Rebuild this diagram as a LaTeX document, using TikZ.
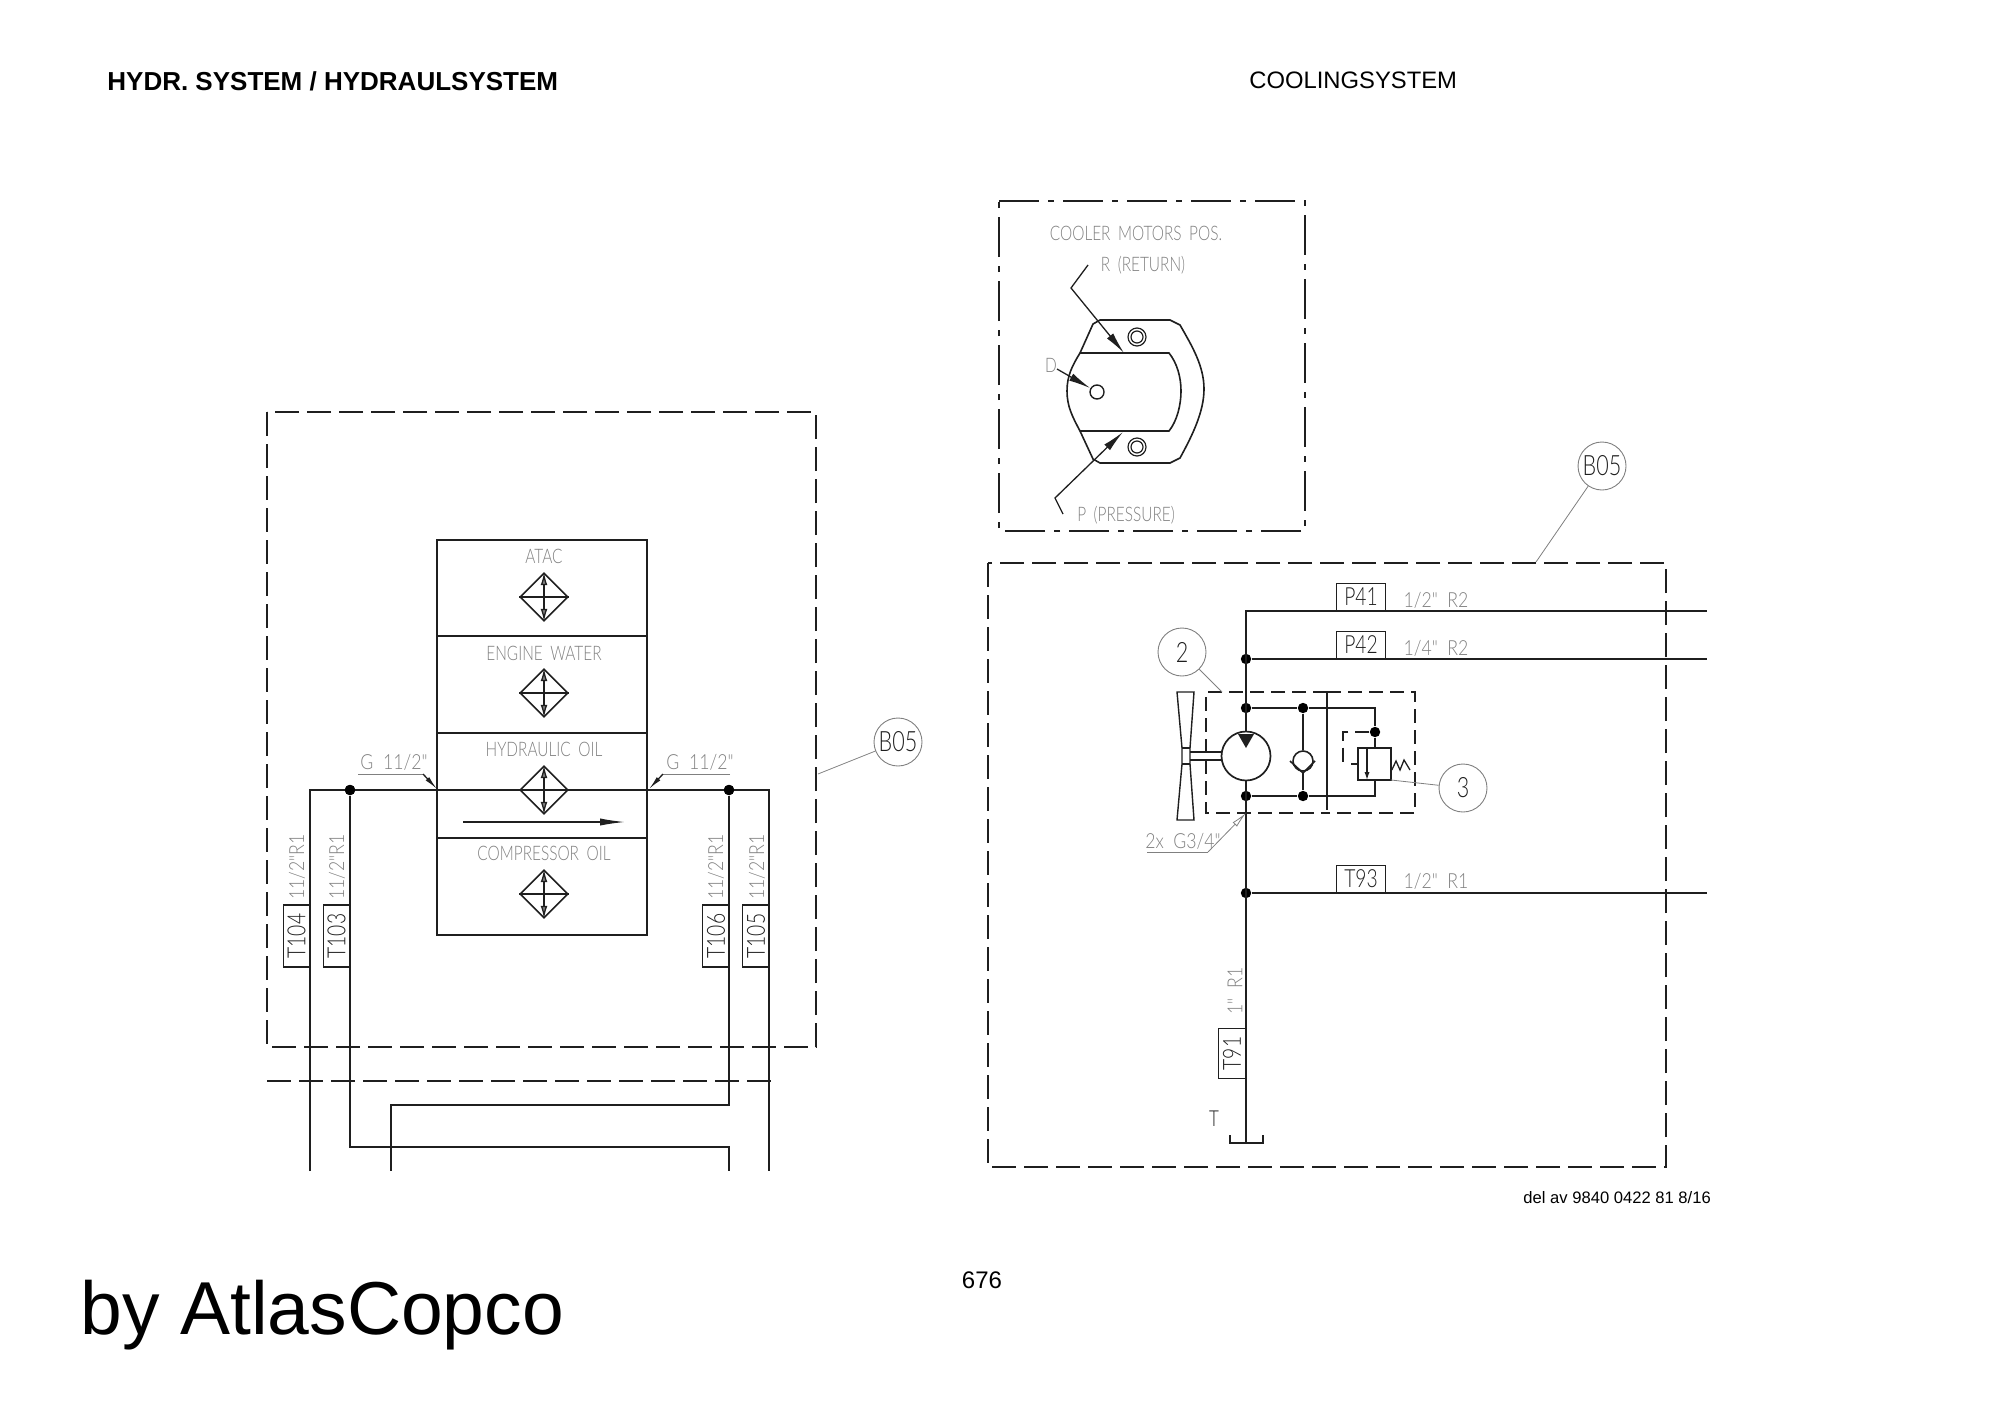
\documentclass[tikz,border=0pt]{standalone}
\usepackage{fontspec}
\usepackage{graphicx}
\setmainfont{Liberation Sans}
\newfontfamily\cad[FakeStretch=0.77,WordSpace=1.8,UprightFont=* Light]{Lato}
\newfontfamily\cadw[FakeStretch=0.85,WordSpace=2.0,UprightFont=* Light]{Lato}
\usetikzlibrary{arrows.meta,shapes.geometric}
\definecolor{cadgray}{gray}{0.5}
\definecolor{ink}{gray}{0.12}
\tikzset{
  x=0.5pt,y=-0.5pt,
  every path/.style={line join=miter},
  pipe/.style={draw=ink,line width=0.72pt},
  frame/.style={draw=ink,line width=1.1pt,dash pattern=on 12pt off 4pt},
  dashdot/.style={draw=ink,line width=0.75pt,dash pattern=on 20pt off 4.5pt on 3pt off 4.5pt},
  hidden/.style={draw=ink,line width=0.75pt,dash pattern=on 7pt off 3.5pt},
  thinlead/.style={draw=cadgray,line width=0.4pt},
  lead/.style={draw=ink,line width=0.65pt},
  head/.style={-{Latex[length=11pt,width=4pt]}},
  jdot/.style={circle,fill=black,minimum size=5.2pt,inner sep=0pt},
  graytext/.style={font=\cad\fontsize{10}{12}\selectfont,text=cadgray,inner sep=0pt},
  sizetext/.style={font=\cadw\fontsize{10.4}{12}\selectfont,text=cadgray,inner sep=0pt},
  tag/.style={draw=ink,line width=0.6pt,minimum width=26pt,minimum height=13.4pt,inner sep=0pt,font=\cad\fontsize{12.5}{14}\selectfont,text=ink},
  balloon/.style={circle,draw=cadgray,line width=0.45pt,minimum size=24pt,inner sep=0pt,font=\cad\fontsize{14}{16}\selectfont,text=ink},
  cell/.style={draw=ink,line width=1pt,minimum width=105pt,inner sep=0pt},
  cooler/.style={diamond,draw=ink,line width=0.8pt,minimum width=24pt,minimum height=24pt,inner sep=0pt},
  flowtip/.style={{Latex[length=6.5pt,width=3.4pt,fill=cadgray]}-{Latex[length=6.5pt,width=3.4pt,fill=cadgray]}},
}
\begin{document}
\begin{tikzpicture}
\useasboundingbox (0,-1) rectangle (2000,1412);
% ---- page texts
\node[anchor=west,inner sep=0pt,font=\bfseries\fontsize{13}{15}\selectfont] (title) at (107,80) {HYDR. SYSTEM / HYDRAULSYSTEM};
\node[anchor=west,inner sep=0pt,font=\fontsize{11.9}{15}\selectfont] (subtitle) at (1249,79) {COOLINGSYSTEM};
\node[anchor=west,inner sep=0pt,font=\fontsize{8.3}{10}\selectfont] (partno) at (1523,1197) {del av 9840 0422 81 8/16};
\node[anchor=center,inner sep=0pt,font=\fontsize{12}{15}\selectfont] (page) at (982,1279) {676};
\node[anchor=west,inner sep=0pt,font=\fontsize{37.5}{45}\selectfont] (brand) at (80,1314) {by AtlasCopco};

% ---- LEFT: frame
\draw[frame] (267,411) rectangle (816,1046);
\draw[frame] (267,1080) -- (775,1080);

% cooler stack
\node[cell,minimum height=48pt] (atac) at (542,587) {};
\node[cell,minimum height=48.5pt] (water) at (542,683.5) {};
\node[cell,minimum height=52.5pt] (hyd) at (542,784.5) {};
\node[cell,minimum height=48.5pt] (comp) at (542,885.5) {};
\node[graytext] (latac) at (544,555) {ATAC};
\node[graytext] (lwater) at (544,652) {ENGINE WATER};
\node[graytext] (lhyd) at (544,748) {HYDRAULIC OIL};
\node[graytext] (lcomp) at (544,852) {COMPRESSOR OIL};
\foreach \n/\y in {da/596,dw/692,dh/789,dc/893}{
  \node[cooler] (\n) at (544,\y) {};
  \draw[lead,flowtip] (\n.north) -- (\n.south);
  \draw[lead] (\n.west) -- (\n.east);
}
\coordinate (flowA) at (463,821);
\coordinate (flowB) at (625,821);
\draw[lead,-{Latex[length=12.5pt,width=3.6pt]}] (flowA) -- (flowB);

% pipes left
\node[jdot] (jl) at (350,789) {};
\node[jdot] (jr) at (729,789) {};
\coordinate (tl) at (310,789);
\coordinate (tr) at (769,789);
\coordinate (e1) at (310,1170);
\coordinate (e2) at (391,1170);
\coordinate (e3) at (729,1170);
\coordinate (e4) at (769,1170);
\coordinate (b1) at (350,1146);
\coordinate (b2) at (729,1146);
\coordinate (c1) at (729,1104);
\coordinate (c2) at (391,1104);
\draw[pipe] (e1) -- (tl) -- (tr) -- (e4);
\draw[pipe] (jl) -- (b1) -- (b2) -- (e3);
\draw[pipe] (jr) -- (c1) -- (c2) -- (e2);

\node[tag,rotate=90,minimum width=31pt,fill=white] (t104) at (296.5,935) {T104};
\node[tag,rotate=90,minimum width=31pt,fill=white] (t103) at (336.5,935) {T103};
\node[tag,rotate=90,minimum width=31pt,fill=white] (t106) at (716,935) {T106};
\node[tag,rotate=90,minimum width=31pt,fill=white] (t105) at (756,935) {T105};
\draw[pipe] (310,904) -- (310,966) (350,904) -- (350,966) (729,904) -- (729,966) (769,904) -- (769,966);
\foreach \n/\x in {s104/297,s103/337,s106/716,s105/757}{
  \node[sizetext,rotate=90] (\n) at (\x,866) {11/2"R1};
}
% G labels
\node[sizetext] (gl) at (394,761) {G 11/2"};
\node[sizetext] (gr) at (700,761) {G 11/2"};
\coordinate (glA) at (358,773);
\coordinate (glB) at (423,773);
\coordinate (glT) at (437,788);
\coordinate (grA) at (730,773);
\coordinate (grB) at (663,773);
\coordinate (grT) at (649,788);
\draw[thinlead] (glA) -- (glB);
\draw[lead,-{Latex[length=7pt,width=2.4pt]}] (glB) -- (glT);
\draw[thinlead] (grA) -- (grB);
\draw[lead,-{Latex[length=7pt,width=2.4pt]}] (grB) -- (grT);
% jdots over pipes
\node[jdot] at (jl) {};
\node[jdot] at (jr) {};
% balloon left
\node[balloon] (b05l) at (898,741) {B05};
\coordinate (b05lend) at (818,773);
\draw[thinlead] (b05l) -- (b05lend);

% ---- COOLER MOTORS POS box
\draw[dashdot] (999,200) -- (1305,200) -- (1305,530) -- (999,530) -- cycle;
\node[graytext] (lcm) at (1136,232) {COOLER MOTORS POS.};
\node[graytext] (lr) at (1143,264) {R (RETURN)};
\node[graytext] (lp) at (1126,514) {P (PRESSURE)};
\node[graytext] (ld) at (1051,364) {D};
\draw[lead,line width=0.8pt] (1100,319) -- (1170,319) -- (1180,324)
  .. controls (1192,345) and (1204,365) .. (1204,388)
  .. controls (1204,411) and (1192,435) .. (1180,457)
  -- (1170,462) -- (1100,462) -- (1093,458) -- (1080,430)
  .. controls (1072,415) and (1067,405) .. (1067,390)
  .. controls (1067,375) and (1072,365) .. (1080,352)
  -- (1093,323) -- cycle;
\draw[lead,line width=0.8pt] (1080,352) -- (1169,352)
  .. controls (1177,362) and (1181,376) .. (1181,390)
  .. controls (1181,404) and (1177,420) .. (1169,430) -- (1080,430);
\foreach \n/\y in {hu/336,hd/446}{
  \node[circle,draw=ink,line width=0.6pt,minimum size=9pt,inner sep=0pt] (\n) at (1137,\y) {};
  \node[circle,draw=ink,line width=0.6pt,minimum size=6pt,inner sep=0pt] (\n i) at (1137,\y) {};
}
\node[circle,draw=ink,line width=0.7pt,minimum size=7pt,inner sep=0pt] (hc) at (1097,391) {};
\coordinate (ra) at (1088,264);
\coordinate (rb) at (1071,287);
\coordinate (rt) at (1124,352);
\coordinate (pa) at (1063,513);
\coordinate (pb) at (1055,497);
\coordinate (pt) at (1123,431);
\coordinate (da1) at (1057,368);
\draw[lead,head] (ra) -- (rb) -- (rt);
\draw[lead,head] (pa) -- (pb) -- (pt);
\draw[lead,head] (da1) -- (hc);

% ---- RIGHT frame
\draw[frame] (988,562) rectangle (1666,1166);
\node[balloon] (b05r) at (1602,465) {B05};
\coordinate (b05rend) at (1536,561);
\draw[thinlead] (b05r) -- (b05rend);

% main pipes
\coordinate (top) at (1246,610);
\coordinate (p41e) at (1707,610);
\coordinate (p42e) at (1707,658);
\coordinate (t93e) at (1707,892);
\coordinate (tank) at (1246,1142);
\node[jdot] (j42) at (1246,658) {};
\node[jdot] (j93) at (1246,892) {};
\node[jdot] (ja) at (1246,707) {};
\node[jdot] (jb) at (1303,707) {};
\node[jdot] (jc) at (1246,795) {};
\node[jdot] (jd) at (1303,795) {};
\node[jdot] (je) at (1375,731) {};
\draw[pipe] (tank) -- (top) -- (p41e);
\draw[pipe] (j42) -- (p42e);
\draw[pipe] (j93) -- (t93e);
\node[tag,anchor=south,minimum width=24.5pt] (p41) at (1361,610) {P41};
\node[tag,anchor=south,minimum width=24.5pt] (p42) at (1361,658) {P42};
\node[tag,anchor=south,minimum width=24.5pt] (t93) at (1361,892) {T93};
\node[sizetext] (s41) at (1436,599) {1/2" R2};
\node[sizetext] (s42) at (1436,647) {1/4" R2};
\node[sizetext] (s93) at (1436,880) {1/2" R1};
\node[tag,rotate=90,anchor=south,minimum width=25pt] (t91) at (1246,1052.5) {T91};
\node[sizetext,rotate=90] (s91) at (1235,990) {1" R1};
\node[font=\cad\fontsize{11}{13}\selectfont,text=ink,inner sep=0pt] (lt) at (1214,1118) {T};
\draw[lead,line width=0.75pt] (1230,1134) -- (1230,1142) -- (1263,1142) -- (1263,1134);

% valve block
\draw[hidden] (1327,691) -- (1206,691) -- (1206,812) -- (1327,812);
\draw[hidden] (1327,691) -- (1415,691) -- (1415,812) -- (1327,812);
\draw[pipe] (1327,691) -- (1327,795);
\draw[hidden] (1327,795) -- (1327,812);
% motor
\node[circle,draw=ink,line width=0.85pt,fill=white,minimum size=24.5pt,inner sep=0pt] (motor) at (1246,755) {};
\fill[ink] (1238,733) -- (1254,733) -- (1246,747) -- cycle;
% fan
\draw[lead,line width=0.7pt] (1177,691) -- (1194,691) -- (1190,747) -- (1190,763) -- (1194,819) -- (1177,819) -- (1182,763) -- (1182,747) -- cycle;
\draw[lead,line width=0.7pt] (1182,747) -- (1190,747) (1182,763) -- (1190,763);
\draw[lead,line width=0.7pt] (1190,751) -- (1222,751) (1190,759) -- (1222,759);
% check valve
\node[circle,draw=ink,line width=0.8pt,minimum size=10pt,inner sep=0pt] (ball) at (1303,760) {};
\draw[pipe] (jb) -- (ball);
\draw[pipe] (ball) -- (jd);
\draw[lead,line width=0.8pt] (1290,760) -- (1303,772) -- (1315,760);
% relief valve
\node[draw=ink,line width=0.8pt,minimum width=16.5pt,minimum height=16pt,inner sep=0pt] (rv) at (1374.5,763) {};
\draw[pipe] (ja) -- (jb) -- (1375,707) -- (je) -- (rv.north -| je);
\draw[pipe] (jc) -- (jd) -- (1375,795) -- (rv.south -| je);
\draw[hidden] (je) -- (1343,731) -- (1343,763);
\draw[lead,line width=0.7pt] (1351,763) -- (rv.west);
\draw[lead,-{Latex[length=4pt,width=2.6pt]}] (1367,747) -- (1367,779);
\draw[lead] (rv.east |- 0,769) -- (1396,760) -- (1400,769) -- (1404,759) -- (1410,769);
% balloons
\node[balloon] (n2) at (1182,651) {2};
\coordinate (n2end) at (1222,691);
\draw[thinlead] (n2) -- (n2end);
\node[balloon] (n3) at (1463,787) {3};
\coordinate (n3end) at (1391,779);
\draw[thinlead] (n3) -- (n3end);
% 2x leader
\node[sizetext] (s2x) at (1183,840) {2x G3/4"};
\coordinate (ga) at (1147,851);
\coordinate (gb) at (1208,851);
\coordinate (gt) at (1246,812);
\draw[thinlead] (ga) -- (gb);
\draw[thinlead,-{Latex[open,length=8pt,width=3pt]}] (gb) -- (gt);
\end{tikzpicture}
\end{document}
